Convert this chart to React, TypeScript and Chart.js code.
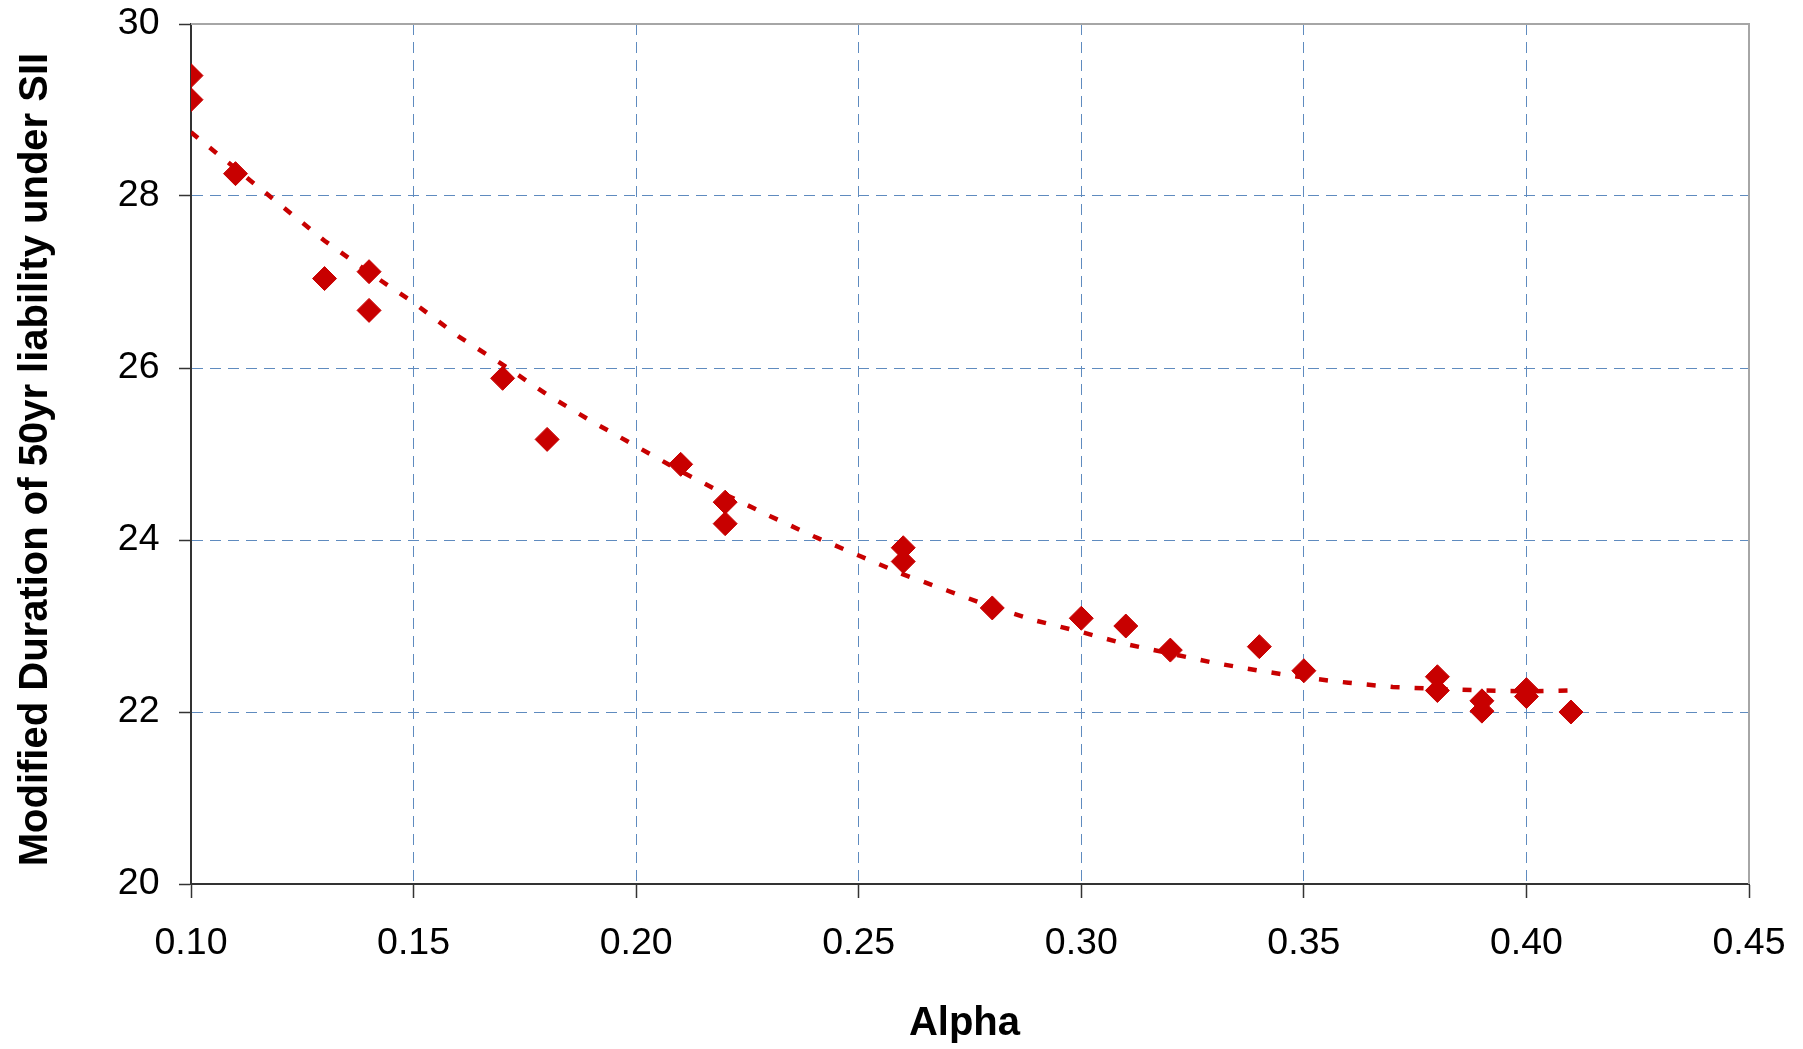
import React, { useEffect, useRef } from 'react';
import { Chart, registerables } from 'chart.js';

Chart.register(...registerables);

// Scatter points
const alphaValues = [0.10, 0.10, 0.11, 0.13, 0.14, 0.14, 0.17, 0.18, 0.21, 0.22, 0.22, 0.26, 0.26, 0.28, 0.30, 0.31, 0.32, 0.34, 0.35, 0.38, 0.38, 0.39, 0.39, 0.40, 0.40, 0.41];
const durationValues = [29.40, 29.12, 28.26, 27.04, 27.12, 26.67, 25.88, 25.17, 24.88, 24.44, 24.19, 23.91, 23.75, 23.21, 23.09, 23.00, 22.72, 22.76, 22.48, 22.41, 22.25, 22.13, 22.01, 22.26, 22.18, 22.00];

// Dotted trend line
const trendAlpha = [0.10, 0.11, 0.12, 0.13, 0.14, 0.15, 0.16, 0.17, 0.18, 0.19, 0.20, 0.21, 0.22, 0.23, 0.24, 0.25, 0.26, 0.27, 0.28, 0.29, 0.30, 0.31, 0.32, 0.33, 0.34, 0.35, 0.36, 0.37, 0.38, 0.39, 0.40, 0.41];
const trendDuration = [28.74, 28.32, 27.90, 27.48, 27.11, 26.76, 26.37, 26.04, 25.69, 25.38, 25.09, 24.80, 24.53, 24.28, 24.04, 23.82, 23.60, 23.41, 23.22, 23.06, 22.93, 22.79, 22.68, 22.57, 22.48, 22.40, 22.34, 22.29, 22.27, 22.25, 22.24, 22.25];

const xTickValues = [0.10, 0.15, 0.20, 0.25, 0.30, 0.35, 0.40, 0.45];
const xTickLabels = ['0.10', '0.15', '0.20', '0.25', '0.30', '0.35', '0.40', '0.45'];
const yTickValues = [20, 22, 24, 26, 28, 30];
const yTickLabels = ['20', '22', '24', '26', '28', '30'];

const xTitle = 'Alpha ';
const yTitle = 'Modified Duration of 50yr liability under SII ';

const FONT = '"Liberation Sans", Arial, sans-serif';
const RED = '#c80000';
const GRID = '#5f8bbf';
const AXIS = '#333333';

const framePlugin = {
  id: 'frame',
  beforeDatasetsDraw(chart: any) {
    const { ctx, chartArea: a } = chart;
    ctx.save();
    ctx.strokeStyle = '#a6a6a6';
    ctx.lineWidth = 2;
    ctx.beginPath();
    ctx.moveTo(a.left, a.top);
    ctx.lineTo(a.right, a.top);
    ctx.lineTo(a.right, a.bottom);
    ctx.stroke();
    ctx.restore();
  },
};

export default function App() {
  const ref = useRef<HTMLCanvasElement | null>(null);

  useEffect(() => {
    document.body.style.margin = '0';
    if (!ref.current) return;
    const chart = new Chart(ref.current, {
      type: 'scatter',
      data: {
        datasets: [
          {
            type: 'scatter',
            label: 'Data',
            data: alphaValues.map((x, i) => ({ x, y: durationValues[i] })),
            pointStyle: 'rectRot',
            pointRadius: 12,
            pointHoverRadius: 12,
            pointBackgroundColor: RED,
            pointBorderColor: RED,
            pointBorderWidth: 1,
            showLine: false,
            order: 0,
          } as any,
          {
            type: 'line',
            label: 'Trend',
            data: trendAlpha.map((x, i) => ({ x, y: trendDuration[i] })),
            borderColor: RED,
            borderWidth: 4.5,
            borderDash: [9, 15],
            borderCapStyle: 'butt',
            pointRadius: 0,
            pointHoverRadius: 0,
            fill: false,
            tension: 0,
            order: 1,
          } as any,
        ],
      },
      options: {
        responsive: false,
        devicePixelRatio: 1,
        animation: false,
        layout: { padding: { left: 0, top: 24, right: 54, bottom: 0 } },
        plugins: {
          legend: { display: false },
          tooltip: { enabled: false },
        },
        scales: {
          x: {
            type: 'linear',
            min: 0.1,
            max: 0.45,
            afterBuildTicks: (s: any) => {
              s.ticks = xTickValues.map((v) => ({ value: v }));
            },
            afterFit: (s: any) => {
              s.height = 165;
              s.paddingLeft = 0;
              s.paddingRight = 0;
            },
            ticks: {
              callback: (_v: any, i: number) => xTickLabels[i],
              font: { family: FONT, size: 37.5 },
              color: '#000',
              padding: 23,
              maxRotation: 0,
              autoSkip: false,
            },
            grid: {
              color: (c: any) => (c.index === 0 ? 'rgba(0,0,0,0)' : GRID),
              lineWidth: 1,
              tickLength: 14,
              tickColor: AXIS,
              tickWidth: 1.5,
              tickBorderDash: [],
            },
            border: { display: true, color: AXIS, width: 2, dash: [11, 7] },
            title: {
              display: true,
              text: xTitle,
              font: { family: FONT, size: 40, weight: 'bold' },
              color: '#000',
              padding: { top: 0, bottom: 1 },
            },
          } as any,
          y: {
            type: 'linear',
            min: 20,
            max: 30,
            afterBuildTicks: (s: any) => {
              s.ticks = yTickValues.map((v) => ({ value: v }));
            },
            afterFit: (s: any) => {
              s.width = 191;
              s.paddingTop = 0;
              s.paddingBottom = 0;
            },
            ticks: {
              callback: (_v: any, i: number) => yTickLabels[i],
              font: { family: FONT, size: 37.5 },
              color: '#000',
              padding: 19.5,
            },
            grid: {
              color: (c: any) => (c.index === 0 ? 'rgba(0,0,0,0)' : GRID),
              lineWidth: 1,
              tickLength: 12,
              tickColor: AXIS,
              tickWidth: 1.5,
              tickBorderDash: [],
            },
            border: { display: true, color: AXIS, width: 2, dash: [11, 7] },
            title: {
              display: true,
              text: yTitle,
              font: { family: FONT, size: 40, weight: 'bold' },
              color: '#000',
              padding: { top: 11.5, bottom: 0 },
            },
          } as any,
        },
      },
      plugins: [framePlugin],
    });
    return () => chart.destroy();
  }, []);

  return (
    <div style={{ position: 'absolute', left: 0, top: 0, width: 1803, height: 1049 }}>
      <canvas ref={ref} width={1803} height={1049} style={{ display: 'block' }} />
    </div>
  );
}
